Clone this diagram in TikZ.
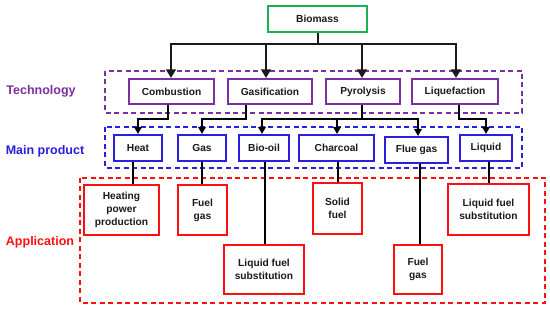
\documentclass[tikz,border=0pt]{standalone}
\usepackage{fontspec}
\setmainfont{Liberation Sans}
\usetikzlibrary{arrows.meta}
\definecolor{bgreen}{HTML}{1DB050}
\definecolor{tpurple}{HTML}{7B2FA0}
\definecolor{pblue}{HTML}{2A1FE0}
\definecolor{ared}{HTML}{FF1010}
\definecolor{txt}{HTML}{1A1A1A}
\begin{document}
\begin{tikzpicture}[x=1pt,y=-1pt,
  box/.style={draw, line width=2pt, fill=white, font=\bfseries\fontsize{10.2}{13}\selectfont,
    text=txt, align=center, inner sep=0pt},
  biobox/.style={box, draw=bgreen},
  techbox/.style={box, draw=tpurple, minimum height=25},
  prodbox/.style={box, draw=pblue, minimum height=26},
  appbox/.style={box, draw=ared},
  grp/.style={dashed, line width=2pt, dash pattern=on 5pt off 3.5pt},
  lbl/.style={font=\bfseries\fontsize{12.5}{15}\selectfont},
  bigarr/.style={line width=2.1pt, draw=txt, -{Triangle[length=8.5pt,width=9.5pt]}},
  smarr/.style={line width=1.8pt, draw=black, -{Triangle[length=7pt,width=7.5pt]}},
  link/.style={line width=2pt, draw=black}
]
\fill[white] (0,0) rectangle (550,310);
\useasboundingbox (0,0) rectangle (550,310);

% group frames
\draw[grp, draw=tpurple] (105,71) rectangle (522,113);
\draw[grp, draw=pblue] (105,127) rectangle (522,168);
\draw[grp, draw=ared] (80,178) rectangle (545,303);

% labels
\node[lbl, text=tpurple] (ltech) at (41,91) {Technology};
\node[lbl, text=pblue] (lprod) at (45,151) {Main product};
\node[lbl, text=ared] (lapp) at (40,242) {Application};

% biomass
\node[biobox, minimum width=99, minimum height=26] (bio) at (317.5,19) {Biomass};

% technologies
\node[techbox, minimum width=85] (comb) at (171.5,91.5) {Combustion};
\node[techbox, minimum width=84] (gasif) at (270,91.5) {Gasification};
\node[techbox, minimum width=74] (pyro) at (363,91.5) {Pyrolysis};
\node[techbox, minimum width=86] (lique) at (455,91.5) {Liquefaction};

% products
\node[prodbox, minimum width=48] (heat) at (138,148) {Heat};
\node[prodbox, minimum width=48] (gas) at (202,148) {Gas};
\node[prodbox, minimum width=50] (biooil) at (264,148) {Bio-oil};
\node[prodbox, minimum width=75] (charcoal) at (336.5,148) {Charcoal};
\node[prodbox, minimum width=63] (flue) at (416.5,150) {Flue gas};
\node[prodbox, minimum width=52] (liquid) at (486,148) {Liquid};

% applications
\node[appbox, minimum width=75, minimum height=50] (heating) at (121.5,210) {Heating\\power\\production};
\node[appbox, minimum width=49, minimum height=50] (fuelgasA) at (202.5,210) {Fuel\\gas};
\node[appbox, minimum width=80, minimum height=49] (liqfuelA) at (264,269.5) {Liquid fuel\\substitution};
\node[appbox, minimum width=49, minimum height=51] (solid) at (337.5,208.5) {Solid\\fuel};
\node[appbox, minimum width=48, minimum height=49] (fuelgasB) at (418,269.5) {Fuel\\gas};
\node[appbox, minimum width=81, minimum height=51] (liqfuelB) at (488.5,209.5) {Liquid fuel\\substitution};

% biomass to technologies
\coordinate (bar) at (318,44);
\draw[link, draw=txt, line width=2.1pt] (bio.south -| bar) -- (bar);
\draw[bigarr] (bar) -| (comb.north -| 171,0);
\draw[bigarr] (bar) -| ([xshift=-4pt]gasif.north);
\draw[bigarr] (bar) -| (pyro.north -| 362,0);
\draw[bigarr] (bar) -| (lique.north -| 456,0);

% technologies to products
\draw[smarr] (comb.south -| 168,0) |- (138,119) -- (heat.north);
\draw[smarr] (gasif.south -| 246,0) |- (202,119) -- (gas.north);
\coordinate (pbar) at (362,119);
\draw[link] (pyro.south -| pbar) -- (pbar);
\draw[smarr] (pbar) -| (biooil.north -| 262,0);
\draw[smarr] (pbar) -| (charcoal.north -| 337,0);
\draw[smarr] (pbar) -| (flue.north -| 418,0);
\draw[smarr] (lique.south -| 459,0) |- (486,119) -- (liquid.north);

% products to applications
\draw[link] (heat.south -| 133,0) -- (heating.north -| 133,0);
\draw[link] (gas.south -| 202,0) -- (fuelgasA.north -| 202,0);
\draw[link] (biooil.south -| 265,0) -- (liqfuelA.north -| 265,0);
\draw[link] (charcoal.south -| 338,0) -- (solid.north -| 338,0);
\draw[link] (flue.south -| 420,0) -- (fuelgasB.north -| 420,0);
\draw[link] (liquid.south -| 489,0) -- (liqfuelB.north -| 489,0);
\end{tikzpicture}
\end{document}
